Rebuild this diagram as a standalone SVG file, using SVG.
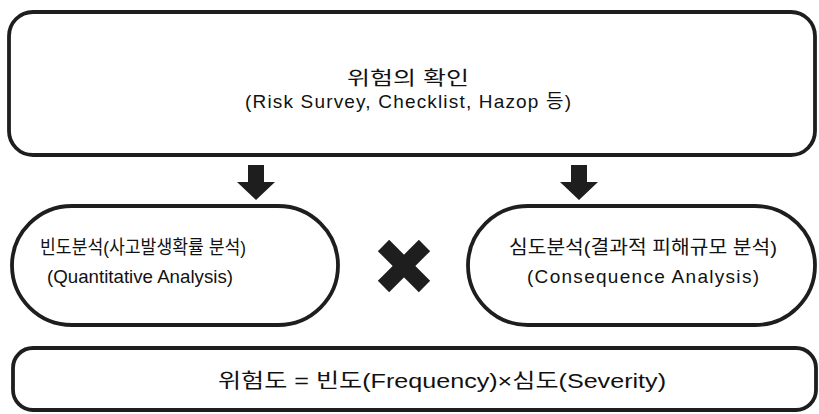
<svg xmlns="http://www.w3.org/2000/svg" width="819" height="414" viewBox="0 0 819 414">
<style>
.box{fill:#fff;stroke:#1e1e1e;stroke-width:3.8}
.t{font-family:"Liberation Sans","Noto Sans CJK KR",sans-serif;font-size:19px;fill:#111;text-anchor:middle}
.mark{fill:#1e1e1e}
</style>
<rect width="819" height="414" fill="#fff"/>
<g id="node-identify">
<rect class="box" x="9" y="12" width="806" height="143" rx="24"/>
<text class="t" x="408" y="85" textLength="122" lengthAdjust="spacingAndGlyphs">위험의 확인</text>
<text class="t" x="408" y="108" textLength="326" lengthAdjust="spacing">(Risk Survey, Checklist, Hazop 등)</text>
</g>
<g id="node-frequency">
<rect class="box" x="12" y="206" width="326" height="119" rx="60"/>
<text class="t" x="143" y="254" textLength="206" lengthAdjust="spacingAndGlyphs">빈도분석(사고발생확률 분석)</text>
<text class="t" x="140" y="283" textLength="186" lengthAdjust="spacingAndGlyphs">(Quantitative Analysis)</text>
</g>
<g id="node-severity">
<rect class="box" x="468" y="206" width="347" height="119" rx="60"/>
<text class="t" x="643" y="254" textLength="268" lengthAdjust="spacingAndGlyphs">심도분석(결과적 피해규모 분석)</text>
<text class="t" x="643" y="283" textLength="232" lengthAdjust="spacing">(Consequence Analysis)</text>
</g>
<g id="node-times">
<g transform="translate(404 266) rotate(45)">
<rect class="mark" x="-29" y="-8" width="58" height="16"/>
<rect class="mark" x="-8" y="-29" width="16" height="58"/>
</g>
</g>
<g id="node-risk">
<rect class="box" x="13" y="348" width="803" height="62" rx="20"/>
<text class="t" x="442" y="388" textLength="448" lengthAdjust="spacingAndGlyphs" style="font-size:20px">위험도 = 빈도(Frequency)×심도(Severity)</text>
</g>
<g id="connectors">
<path class="mark" d="M248 165 H264 V182 H275 L256 200 L237 182 H248 Z"/>
<path class="mark" d="M571 165 H587 V182 H598 L579 200 L560 182 H571 Z"/>
</g>
</svg>
